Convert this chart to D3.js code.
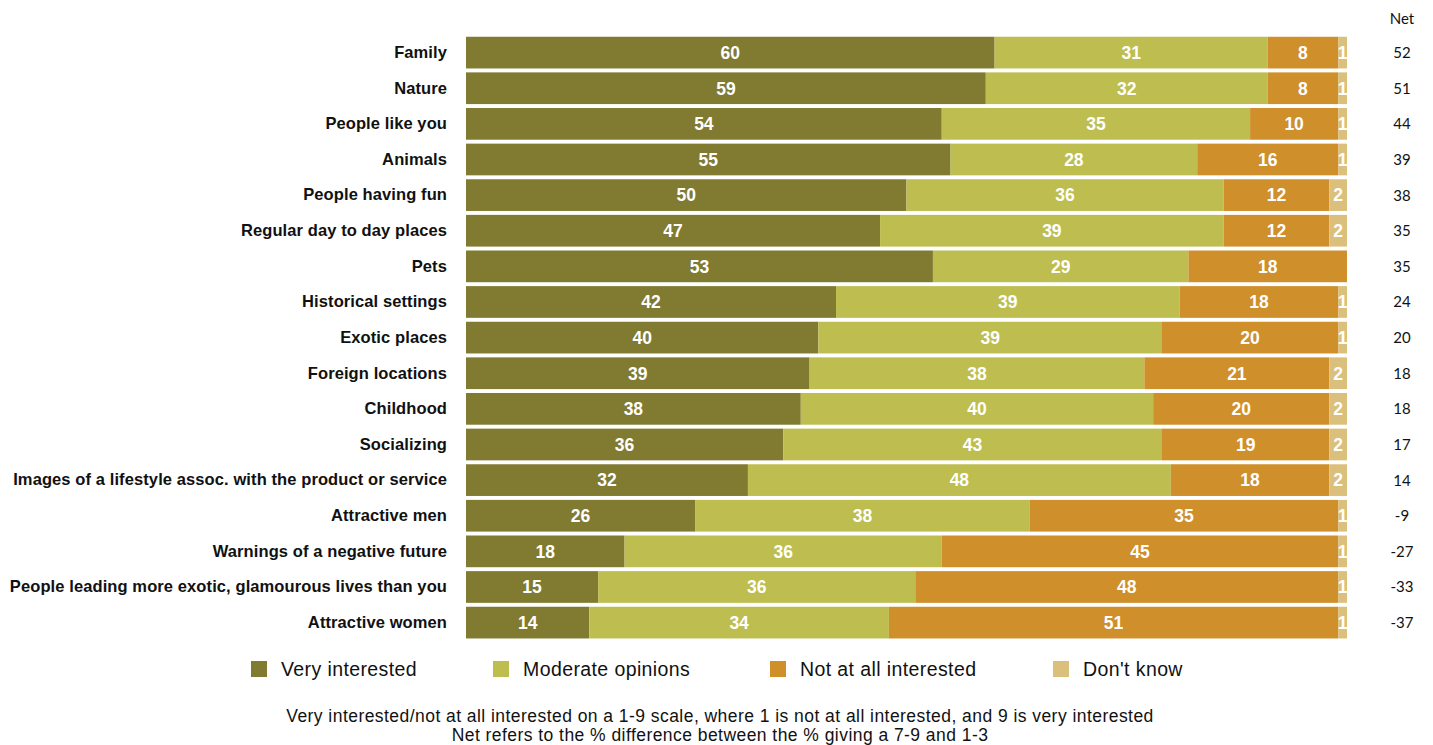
<!DOCTYPE html>
<html>
<head>
<meta charset="utf-8">
<script src="https://cdn.jsdelivr.net/npm/d3@7"></script>
<style>
  html, body { margin: 0; padding: 0; background: #fff; }
  svg { display: block; }
</style>
</head>
<body>
<svg id="chart" width="1433" height="745"></svg>
<script>
// Survey categories, top to bottom
const categories = [
  "Family", "Nature", "People like you", "Animals", "People having fun",
  "Regular day to day places", "Pets", "Historical settings", "Exotic places",
  "Foreign locations", "Childhood", "Socializing",
  "Images of a lifestyle assoc. with the product or service",
  "Attractive men", "Warnings of a negative future",
  "People leading more exotic, glamourous lives than you", "Attractive women"
];

// Percent of respondents per answer group
const veryInterested = [60, 59, 54, 55, 50, 47, 53, 42, 40, 39, 38, 36, 32, 26, 18, 15, 14];
const moderate       = [31, 32, 35, 28, 36, 39, 29, 39, 39, 38, 40, 43, 48, 38, 36, 36, 34];
const notInterested  = [ 8,  8, 10, 16, 12, 12, 18, 18, 20, 21, 20, 19, 18, 35, 45, 48, 51];
const dontKnow       = [ 1,  1,  1,  1,  2,  2,  0,  1,  1,  2,  2,  2,  2,  1,  1,  1,  1];

// Net score (% 7-9 minus % 1-3)
const net = [52, 51, 44, 39, 38, 35, 35, 24, 20, 18, 18, 17, 14, -9, -27, -33, -37];

const seriesKeys = ["very", "moderate", "not", "dk"];
const seriesNames = ["Very interested", "Moderate opinions", "Not at all interested", "Don't know"];
const seriesColors = ["#817a31", "#bdbe4f", "#cf8f2a", "#dbc07d"];

const rows = categories.map((c, i) => ({
  category: c,
  very: veryInterested[i],
  moderate: moderate[i],
  not: notInterested[i],
  dk: dontKnow[i],
  net: net[i]
}));

const svg = d3.select("#chart");

const x = d3.scaleLinear().domain([0, 100]).range([466, 1347]);
const y = d3.scaleBand()
  .domain(categories)
  .range([34.8, 34.8 + 17 * 35.625])
  .paddingInner(0.11)
  .paddingOuter(0.055);
const color = d3.scaleOrdinal().domain(seriesKeys).range(seriesColors);

const stacked = d3.stack().keys(seriesKeys)(rows);

// Stacked bars
const layers = svg.append("g").selectAll("g")
  .data(stacked)
  .join("g")
  .attr("fill", d => color(d.key));

layers.selectAll("rect")
  .data(d => d.map(s => ({ s, key: d.key })))
  .join("rect")
  .attr("x", d => x(d.s[0]))
  .attr("y", d => y(d.s.data.category))
  .attr("width", d => x(d.s[1]) - x(d.s[0]))
  .attr("height", y.bandwidth());

// Segment value labels
layers.selectAll("text")
  .data(d => d.map(s => ({ s, key: d.key })).filter(d => d.s[1] - d.s[0] > 0))
  .join("text")
  .attr("x", d => (x(d.s[0]) + x(d.s[1])) / 2)
  .attr("y", d => y(d.s.data.category) + y.bandwidth() / 2)
  .attr("dy", "0.36em")
  .attr("text-anchor", "middle")
  .attr("fill", "#fff")
  .attr("font-family", "'Liberation Sans', Arial, sans-serif")
  .attr("font-weight", "bold")
  .attr("font-size", 17.5)
  .text(d => d.s[1] - d.s[0]);

// Category labels
const yAxis = d3.axisLeft(y).tickSize(0).tickPadding(0);
const ag = svg.append("g")
  .attr("transform", "translate(447,0)")
  .call(yAxis);
ag.select(".domain").remove();
ag.selectAll("text")
  .attr("font-family", "'Liberation Sans', Arial, sans-serif")
  .attr("font-weight", "bold")
  .attr("font-size", 16.5)
  .attr("letter-spacing", 0.1)
  .attr("fill", "#111");

// Net column
svg.append("text")
  .attr("x", 1402).attr("y", 24)
  .attr("text-anchor", "middle")
  .attr("font-family", "Lato, 'Open Sans', sans-serif")
  .attr("font-size", 15)
  .attr("fill", "#111")
  .text("Net");

svg.append("g").selectAll("text")
  .data(rows)
  .join("text")
  .attr("x", 1402)
  .attr("y", d => y(d.category) + y.bandwidth() / 2)
  .attr("dy", "0.36em")
  .attr("text-anchor", "middle")
  .attr("font-family", "Lato, 'Open Sans', sans-serif")
  .attr("font-size", 15)
  .attr("fill", "#111")
  .text(d => d.net);

// Legend
const legendX = [251, 493, 770, 1053];
const legend = svg.append("g").selectAll("g")
  .data(seriesKeys)
  .join("g")
  .attr("transform", (d, i) => `translate(${legendX[i]},661)`);
legend.append("rect")
  .attr("width", 16).attr("height", 16)
  .attr("fill", d => color(d));
legend.append("text")
  .attr("x", 30).attr("y", 8)
  .attr("dy", "0.36em")
  .attr("font-family", "'Liberation Sans', Arial, sans-serif")
  .attr("font-size", 19.5)
  .attr("letter-spacing", 0.4)
  .attr("fill", "#111")
  .text((d, i) => seriesNames[i]);

// Footnotes
const notes = [
  "Very interested/not at all interested on a 1-9 scale, where 1 is not at all interested, and 9 is very interested",
  "Net refers to the % difference between the % giving a 7-9 and 1-3"
];
svg.append("g").selectAll("text")
  .data(notes)
  .join("text")
  .attr("x", 720)
  .attr("y", (d, i) => 722 + i * 19)
  .attr("text-anchor", "middle")
  .attr("font-family", "'Liberation Sans', Arial, sans-serif")
  .attr("font-size", 17.5)
  .attr("letter-spacing", 0.45)
  .attr("fill", "#111")
  .text(d => d);
</script>
</body>
</html>
